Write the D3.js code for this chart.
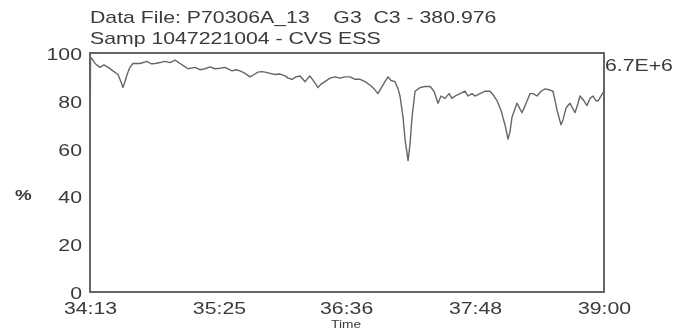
<!DOCTYPE html>
<html>
<head>
<meta charset="utf-8">
<script src="https://cdn.jsdelivr.net/npm/d3@7/dist/d3.min.js"></script>
<style>
  html, body { margin: 0; padding: 0; background: #fff; }
  svg { display: block; }
  text { font-family: "Liberation Sans", Arial, sans-serif; fill: #3a3a3a; }
</style>
</head>
<body>
<svg id="chart" width="691" height="330"></svg>
<script>
// ---- data ----
const titleLines = ["Data File: P70306A_13    G3  C3 - 380.976", "Samp 1047221004 - CVS ESS"];
const scaleLabel = "6.7E+6";
const yLabel = "%";
const xLabel = "Time";
const yTicks = [0, 20, 40, 60, 80, 100];
const xTickSec = [0, 72, 143, 215, 287];          // seconds after 34:13
const xTickLabels = ["34:13", "35:25", "36:36", "37:48", "39:00"];

const elapsedSec = [0, 0.3, 0.6, 1.7, 2.8, 5.6, 7.8, 10.1, 12.8, 15.6, 17.3, 18.4, 19.5, 20.7, 22.3, 24.0,
  27.9, 31.8, 34.1, 36.3, 39.1, 41.9, 44.7, 47.5, 50.3, 52.5, 54.7, 58.6, 61.4, 64.2, 67.0, 69.8,
  72.6, 75.4, 79.3, 81.5, 83.8, 86.6, 89.3, 91.6, 93.8, 96.0, 97.7, 100.5, 103.3, 106.1, 108.9, 110.6,
  112.8, 115.0, 117.3, 120.1, 121.7, 122.8, 125.1, 127.3, 129.0, 131.2, 134.0, 136.8, 139.6, 142.4,
  145.2, 148.0, 150.8, 153.6, 156.4, 158.6, 160.8, 163.1, 164.7, 166.4, 168.1, 170.3, 172.0, 173.1,
  174.8, 175.9, 177.6, 178.7, 179.8, 181.5, 184.3, 187.1, 189.9, 192.1, 194.3, 196.0, 198.2, 200.5,
  202.1, 203.8, 206.6, 209.4, 211.1, 213.3, 215.0, 217.8, 220.6, 223.4, 225.6, 227.3, 229.5, 231.7,
  233.4, 234.5, 235.6, 238.4, 241.2, 243.5, 245.7, 247.4, 249.6, 251.8, 254.1, 256.9, 258.5, 259.7,
  260.8, 263.0, 264.1, 265.8, 268.0, 270.8, 272.5, 273.6, 275.8, 277.5, 279.2, 280.9, 282.6, 283.7,
  285.3, 287.0];
const percent = [57, 97, 98, 97, 95.6, 94, 95, 94, 92.5, 91, 88, 85.5, 88, 91, 94, 95.6,
  95.6, 96.5, 95.5, 95.6, 96, 96.5, 96, 97, 95.6, 94.5, 93.4, 94, 93, 93.4, 94.2, 93.4,
  93.6, 94, 92.5, 93, 92.5, 91.5, 90, 91, 92, 92.2, 92, 91.5, 91, 91.2, 90.4, 89.5,
  89, 90, 90.4, 88, 89.5, 90.4, 88, 85.5, 87, 88, 89.5, 90, 89.5, 90,
  90, 89, 89, 88, 86.5, 85, 83, 86, 88, 90, 88.5, 88, 85, 82,
  73, 64, 55, 62, 73, 84, 85.5, 86, 86, 84, 79, 82, 81, 83,
  81, 82, 83, 84, 82, 83, 82, 83, 84, 84, 82, 80, 76, 70,
  64, 67, 73, 79, 75, 79, 83, 83, 82, 84, 85, 84.5, 84, 80,
  76, 70, 72, 77, 79, 75, 79, 82, 80, 78, 81, 82, 80, 80,
  82, 84];

// ---- layout ----
const svg = d3.select("#chart");
const defs = svg.append("defs");
defs.append("filter").attr("id", "soft").attr("x", "-5%").attr("y", "-5%").attr("width", "110%").attr("height", "110%")
  .append("feGaussianBlur").attr("stdDeviation", 0.55);
const root = svg.append("g").attr("filter", "url(#soft)");

const plot = { left: 90, right: 604, top: 53, bottom: 292 };
const FS = 17, STRETCH = 1.25;

const x = d3.scaleLinear().domain([0, 287]).range([plot.left, plot.right]);
const y = d3.scaleLinear().domain([0, 100]).range([plot.bottom, plot.top]);

function stretch(sel) {
  sel.each(function () {
    const L = this.getComputedTextLength();
    d3.select(this).attr("textLength", L * STRETCH).attr("lengthAdjust", "spacingAndGlyphs");
  });
}

// titles
root.selectAll("text.title").data(titleLines).join("text")
  .attr("class", "title")
  .attr("x", plot.left)
  .attr("y", (d, i) => 23 + i * 21)
  .attr("font-size", FS)
  .attr("xml:space", "preserve")
  .style("white-space", "pre")
  .text(d => d)
  .call(stretch);

// y axis (labels only)
const yAxis = d3.axisLeft(y).tickValues(yTicks).tickSize(0).tickPadding(8);
const gy = root.append("g").attr("transform", `translate(${plot.left},0)`).call(yAxis);
gy.select(".domain").remove();
gy.selectAll("text")
  .attr("font-size", FS).attr("dy", "0.38em")
  .style("font-family", "'Liberation Sans', Arial, sans-serif").attr("fill", "#3a3a3a")
  .call(stretch);

// x axis (labels only)
const xAxis = d3.axisBottom(x).tickValues(xTickSec).tickFormat((d, i) => xTickLabels[i]).tickSize(0).tickPadding(10);
const gx = root.append("g").attr("transform", `translate(0,${plot.bottom})`).call(xAxis);
gx.select(".domain").remove();
gx.selectAll("text")
  .attr("font-size", FS)
  .style("font-family", "'Liberation Sans', Arial, sans-serif").attr("fill", "#3a3a3a")
  .call(stretch);

// frame
root.append("rect")
  .attr("x", plot.left).attr("y", plot.top)
  .attr("width", plot.right - plot.left).attr("height", plot.bottom - plot.top)
  .attr("fill", "none").attr("stroke", "#555").attr("stroke-width", 1.8);

// trace
const line = d3.line().x((d, i) => x(elapsedSec[i])).y(d => y(d));
root.append("path")
  .datum(percent)
  .attr("d", line)
  .attr("fill", "none")
  .attr("stroke", "#666")
  .attr("stroke-width", 1.4)
  .attr("stroke-linejoin", "round");

// scale label
root.append("text").attr("x", plot.right + 1).attr("y", 71).attr("font-size", FS).text(scaleLabel).call(stretch);

// axis titles
root.append("text").attr("x", 15).attr("y", 200).attr("font-size", 15).attr("font-weight", "bold").text(yLabel).call(stretch);
root.append("text").attr("x", x(143)).attr("y", 327.5).attr("text-anchor", "middle").attr("font-size", 11).text(xLabel).call(stretch);
</script>
</body>
</html>
